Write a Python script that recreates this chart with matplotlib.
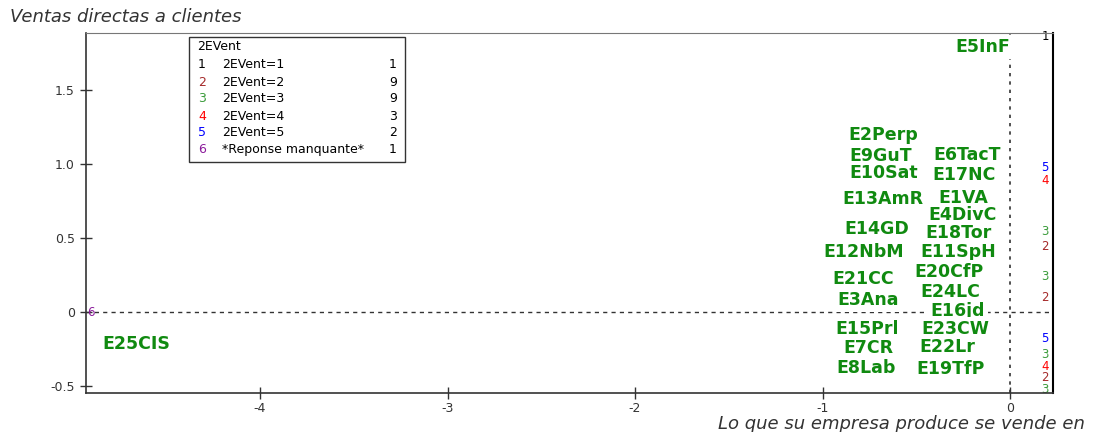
import matplotlib.pyplot as plt
from matplotlib.patches import Rectangle

# point labels (individuals)
names = ["E5InF", "E2Perp", "E9GuT", "E6TacT", "E10Sat", "E17NC", "E13AmR", "E1VA",
         "E4DivC", "E14GD", "E18Tor", "E12NbM", "E11SpH", "E20CfP", "E21CC", "E24LC",
         "E3Ana", "E16jd", "E15Prl", "E23CW", "E7CR", "E22Lr", "E8Lab", "E19TfP", "E25CIS"]
xs = [-0.144, -0.677, -0.688, -0.229, -0.672, -0.245, -0.677, -0.251,
      -0.251, -0.709, -0.277, -0.779, -0.277, -0.325, -0.784, -0.320,
      -0.757, -0.277, -0.763, -0.293, -0.757, -0.336, -0.768, -0.315, -4.661]
ys = [1.79, 1.196, 1.054, 1.061, 0.939, 0.926, 0.764, 0.770,
      0.655, 0.561, 0.534, 0.405, 0.405, 0.270, 0.223, 0.135,
      0.081, 0.007, -0.115, -0.115, -0.243, -0.236, -0.378, -0.385, -0.216]

# category markers (2EVent modalities)
cat_x = [0.187, 0.187, 0.187, 0.187, 0.187, 0.187, 0.187, 0.187, 0.187, 0.187, 0.187, 0.187, -4.90]
cat_y = [1.858, 0.975, 0.89, 0.547, 0.446, 0.243, 0.095, -0.18, -0.29, -0.37, -0.445, -0.52, 0.0]
cat_lab = ["1", "5", "4", "3", "2", "3", "2", "5", "3", "4", "2", "3", "6"]

legend_nums = ["1", "2", "3", "4", "5", "6"]
legend_texts = ["2EVent=1", "2EVent=2", "2EVent=3", "2EVent=4", "2EVent=5", "*Reponse manquante*"]
legend_counts = [1, 9, 9, 3, 2, 1]

cat_colors = {"1": "black", "2": "#a52a2a", "3": "#3c9c3c", "4": "#ff0000",
              "5": "#0000ff", "6": "#8b1a9b"}
label_green = "#108a10"

fig = plt.figure(figsize=(10.93, 4.32), dpi=100)
ax = fig.add_axes([86 / 1093, 1 - 393 / 432, (1053 - 86) / 1093, 360 / 432])
ax.set_xlim(-4.928, 0.229)
ax.set_ylim(-0.547, 1.885)

ax.axhline(0, color="#333333", ls=(0, (3, 3)), lw=1, zorder=1)
ax.axvline(0, color="#333333", ls=(0, (2, 3)), lw=1.2, zorder=1)

for n, x, y in zip(names, xs, ys):
    ax.text(x, y, n, color=label_green, fontsize=12.5, fontweight="bold",
            ha="center", va="center", zorder=3,
            bbox=dict(boxstyle="square,pad=0.15", fc="white", ec="none"))

for x, y, l in zip(cat_x, cat_y, cat_lab):
    ax.text(x, y, l, color=cat_colors[l], fontsize=8.5, ha="center", va="center", zorder=2)

ax.set_xticks([-4, -3, -2, -1, 0])
ax.set_xticklabels(["-4", "-3", "-2", "-1", "0"])
ax.set_yticks([-0.5, 0, 0.5, 1.0, 1.5])
ax.set_yticklabels(["-0.5", "0", "0.5", "1.0", "1.5"])
ax.tick_params(direction="inout", length=9, width=1, labelsize=9, colors="#333333")
ax.tick_params(axis="x", pad=2)
for s in ["left", "bottom"]:
    ax.spines[s].set_color("#333333")
    ax.spines[s].set_linewidth(1.2)
ax.spines["top"].set_color("#777777")
ax.spines["right"].set_color("black")
ax.spines["right"].set_linewidth(1.5)

fig.text(10 / 1093, 1 - 17 / 432, "Ventas directas a clientes", fontsize=13,
         style="italic", color="#333333", ha="left", va="center")
fig.text(1085 / 1093, 1 - 424 / 432, "Lo que su empresa produce se vende en", fontsize=13,
         style="italic", color="#333333", ha="right", va="center")

# legend box
lx0, lx1 = (189 - 86) / 967, (405 - 86) / 967
ly0, ly1 = 1 - (162 - 33) / 360, 1 - (37 - 33) / 360
ax.add_patch(Rectangle((lx0, ly0), lx1 - lx0, ly1 - ly0, transform=ax.transAxes,
                       fc="white", ec="#333333", lw=1, zorder=4))

def fy(py):
    return 1 - (py - 33) / 360

ax.text((197 - 86) / 967, fy(47), "2EVent", transform=ax.transAxes, fontsize=9,
        va="center", ha="left", zorder=5)
for i, (num, txt, cnt) in enumerate(zip(legend_nums, legend_texts, legend_counts)):
    yy = fy(65 + 17 * i)
    ax.text((202 - 86) / 967, yy, num, transform=ax.transAxes, fontsize=9,
            color=cat_colors[num], va="center", ha="center", zorder=5)
    ax.text((222 - 86) / 967, yy, txt, transform=ax.transAxes, fontsize=9,
            va="center", ha="left", zorder=5)
    ax.text((397 - 86) / 967, yy, str(cnt), transform=ax.transAxes, fontsize=9,
            va="center", ha="right", zorder=5)

fig.savefig("out.png", dpi=100)
